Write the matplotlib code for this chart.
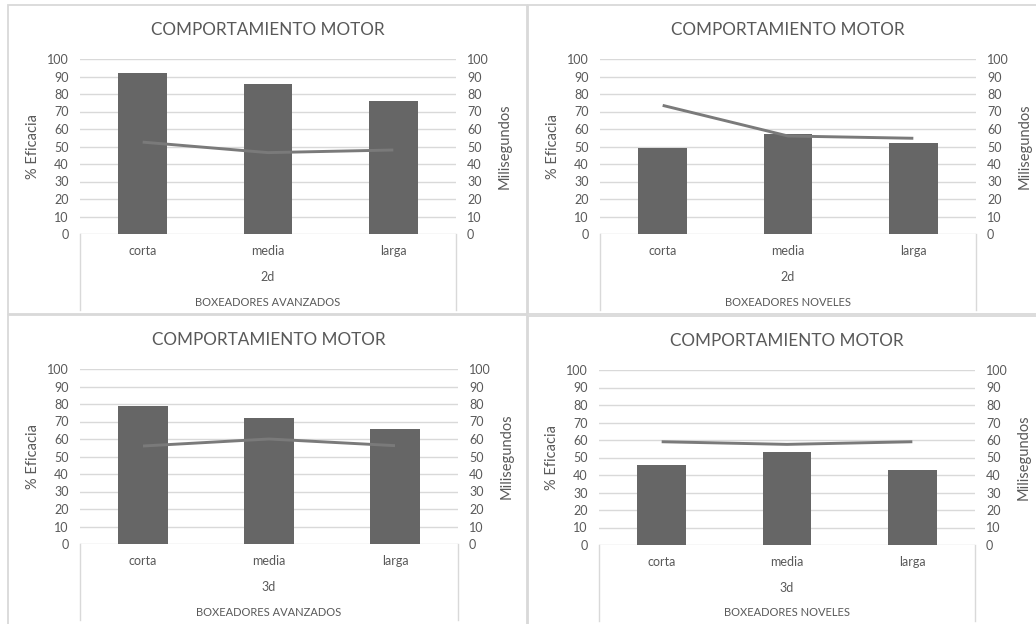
import matplotlib
matplotlib.use("Agg")
import matplotlib.pyplot as plt
from matplotlib.patches import Rectangle
from matplotlib.lines import Line2D

plt.rcParams['font.family'] = ['Lato', 'DejaVu Sans']

categories = ["corta", "media", "larga"]
title = "COMPORTAMIENTO MOTOR"
dims = ["2d", "2d", "3d", "3d"]
groups = ["BOXEADORES AVANZADOS", "BOXEADORES NOVELES",
          "BOXEADORES AVANZADOS", "BOXEADORES NOVELES"]
eficacia = [
    [92, 86, 76],
    [49, 57, 52],
    [79, 72, 66],
    [46, 53, 43],
]
milisegundos = [
    [52.5, 46.5, 48],
    [73.5, 56, 54.7],
    [56, 60, 56.2],
    [59, 57.5, 59],
]
yticks = list(range(0, 101, 10))

W, H = 1036, 624
fig = plt.figure(figsize=(W / 100, H / 100), dpi=100)
fig.patch.set_facecolor("white")

TXT = "#595959"
GRID = "#d9d9d9"
BAR = "#666666"
LINE = "#7a7a7a"

# panel layout in pixels: (plot_left, plot_top, plot_right, plot_bottom, title_y)
panels = [
    (80, 59, 456, 234, 30),
    (600, 59, 976, 234, 30),
    (80, 369, 458, 544, 340),
    (599, 370, 975, 545, 341),
]
borders = [
    (8, 5, 527, 314),
    (528, 5, 1040, 314),
    (8, 315, 527, 630),
    (528, 316, 1040, 630),
]

for (x0, y0, x1, y1) in borders:
    fig.patches.append(Rectangle((x0 / W, 1 - y1 / H), (x1 - x0) / W, (y1 - y0) / H,
                                 transform=fig.transFigure, fill=False,
                                 edgecolor="#d9d9d9", linewidth=1.3))

for i, (l, t, r, b, ty) in enumerate(panels):
    ax = fig.add_axes([l / W, 1 - b / H, (r - l) / W, (b - t) / H])
    ph = b - t
    ax.set_xlim(-0.5, 2.5)
    ax.set_ylim(0, 100)
    for v in yticks:
        ax.axhline(v, color=GRID, linewidth=1.0, zorder=0)
    ax.bar(range(len(categories)), eficacia[i], width=0.39, color=BAR, zorder=2)
    ax.set_yticks(yticks)
    ax.set_xticks([])
    ax.tick_params(axis='y', length=0, pad=8, labelsize=9, labelcolor=TXT)
    for s in ax.spines.values():
        s.set_visible(False)
    ax.set_ylabel("% Eficacia", color=TXT, fontsize=10.5, labelpad=5)

    ax2 = ax.twinx()
    ax2.set_ylim(0, 100)
    ax2.set_xlim(-0.5, 2.5)
    ax2.plot(range(len(categories)), milisegundos[i], color=LINE, linewidth=2.1,
             solid_capstyle='butt', zorder=3)
    ax2.set_yticks(yticks)
    ax2.tick_params(axis='y', length=0, pad=8, labelsize=9, labelcolor=TXT)
    for s in ax2.spines.values():
        s.set_visible(False)
    ax2.set_ylabel("Milisegundos", color=TXT, fontsize=10.5, labelpad=6)

    # category axis (multi-level)
    for k, c in enumerate(categories):
        ax.text(k, -17 / ph, c, transform=ax.get_xaxis_transform(), ha='center',
                va='center', fontsize=9, color=TXT)
    ax.text(0.5, -43 / ph, dims[i], transform=ax.transAxes, ha='center', va='center',
            fontsize=9, color=TXT)
    ax.text(0.5, -68 / ph, groups[i], transform=ax.transAxes, ha='center', va='center',
            fontsize=8, color=TXT)
    for xx in (0, 1):
        ax.add_line(Line2D([xx, xx], [0, -76 / ph], transform=ax.transAxes,
                           color=GRID, linewidth=1.0, clip_on=False))

    fig.text(((l + r) / 2) / W, 1 - ty / H, title, ha='center', va='center',
             fontsize=12.3, color=TXT)

fig.savefig("out.png", dpi=100, facecolor="white")
